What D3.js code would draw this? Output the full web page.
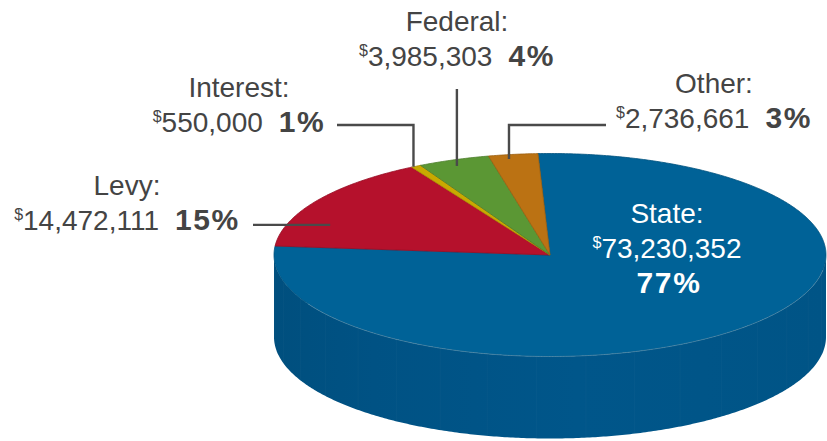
<!DOCTYPE html>
<html>
<head>
<meta charset="utf-8">
<script src="https://cdn.jsdelivr.net/npm/d3@7/dist/d3.min.js"></script>
<style>
  html, body { margin: 0; padding: 0; background: #ffffff; }
  svg { display: block; }
  text { font-family: "Liberation Sans", Arial, Helvetica, sans-serif; }
</style>
</head>
<body>
<svg id="chart" width="827" height="441"></svg>
<script>
// Revenue sources, in drawing order around the pie
const categories = ["State", "Levy", "Interest", "Federal", "Other"];
const amounts = [73230352, 14472111, 550000, 3985303, 2736661];
const topColors = ["#006297", "#b5112c", "#c9a900", "#5b9734", "#bb7213"];
const sideColors = ["#00568a", "#8f0c22", "#a08700", "#477828", "#945a0e"];

// Where each caption sits and how its leader runs to the slice
const labelLayout = {
  State:    { x: 667, y: 223, inside: true },
  Levy:     { x: 127, y: 195, leader: "h", startX: 253, along: 0.28, k: 0.85 },
  Interest: { x: 239, y: 97,  leader: "hv", startX: 337, startY: 125, along: 0.2, k: 1.0 },
  Federal:  { x: 457, y: 31,  leader: "v", startY: 89, along: 0.46, k: 0.94 },
  Other:    { x: 714, y: 93,  leader: "hv", startX: 606, startY: 125, along: 0.38, k: 0.957 }
};

const svg = d3.select("#chart");
const cx = 550, cy = 255, rx = 276, ry = 101.5, depth = 82;
const lineGap = 35;

const data = categories.map((c, i) => ({ name: c, value: amounts[i], top: topColors[i], side: sideColors[i] }));
const total = d3.sum(amounts);

// d3.pie angles run clockwise from 12 o'clock; shift to screen angles from +x
const pie = d3.pie().sort(null).value(d => d.value)
  .startAngle(-2.5 * Math.PI / 180)
  .endAngle(-2.5 * Math.PI / 180 + 2 * Math.PI);
const arcs = pie(data).map(a => ({ ...a, t0: a.startAngle - Math.PI / 2, t1: a.endAngle - Math.PI / 2 }));

const pt = (t, k = 1, dz = 0) => [cx + k * rx * Math.cos(t), cy + k * ry * Math.sin(t) + dz];
function ellipseArc(t0, t1, dz = 0) {
  const n = Math.max(2, Math.ceil(Math.abs(t1 - t0) / 0.01));
  return d3.range(n + 1).map(i => pt(t0 + (t1 - t0) * i / n, 1, dz));
}
const line = d3.line();

// Side gradient: a little darker toward the left edge
const defs = svg.append("defs");
arcs.forEach((a, i) => {
  const base = d3.color(a.data.side);
  const g = defs.append("linearGradient").attr("id", "side" + i)
    .attr("gradientUnits", "userSpaceOnUse")
    .attr("x1", cx - rx).attr("x2", cx + rx).attr("y1", 0).attr("y2", 0);
  g.append("stop").attr("offset", 0).attr("stop-color", base.darker(0.25));
  g.append("stop").attr("offset", 0.18).attr("stop-color", base.darker(0.12));
  g.append("stop").attr("offset", 0.55).attr("stop-color", base);
  g.append("stop").attr("offset", 1).attr("stop-color", base.darker(0.08));
});

// Front wall: the part of each slice facing the viewer (screen angles 0..π)
const sideG = svg.append("g");
arcs.forEach((a, i) => {
  for (let k = -1; k <= 1; k++) {
    const s0 = Math.max(a.t0 + 2 * Math.PI * k, 0);
    const s1 = Math.min(a.t1 + 2 * Math.PI * k, Math.PI);
    if (s1 > s0) {
      const topEdge = ellipseArc(s0, s1, 0);
      const bottomEdge = ellipseArc(s1, s0, depth);
      sideG.append("path")
        .attr("d", line(topEdge.concat(bottomEdge)) + "Z")
        .attr("fill", `url(#side${i})`);
      // faint facet seams
      d3.range(s0 + 0.18, s1, 0.18).forEach(t => {
        const p = pt(t), q = pt(t, 1, depth);
        sideG.append("line")
          .attr("x1", p[0]).attr("y1", p[1]).attr("x2", q[0]).attr("y2", q[1])
          .attr("stroke", "#ffffff").attr("stroke-opacity", 0.025).attr("stroke-width", 1);
      });
    }
  }
});

// Top face slices
const topG = svg.append("g");
arcs.forEach(a => {
  const pts = [[cx, cy]].concat(ellipseArc(a.t0, a.t1, 0));
  topG.append("path")
    .attr("d", line(pts) + "Z")
    .attr("fill", a.data.top)
    .attr("stroke", d3.color(a.data.top).darker(0.5))
    .attr("stroke-width", 0.8)
    .attr("stroke-linejoin", "round");
});
// Soft highlight along the front rim
topG.append("path")
  .attr("d", line(ellipseArc(0.15, Math.PI - 0.5, 0)))
  .attr("fill", "none")
  .attr("stroke", "#ffffff").attr("stroke-opacity", 0.22).attr("stroke-width", 1);

// Captions and leaders
const fmt = d3.format(",");
const labelG = svg.append("g");
arcs.forEach(a => {
  const L = labelLayout[a.data.name];
  const pct = Math.round(a.data.value / total * 100) + "%";
  const fill = L.inside ? "#ffffff" : "#444444";

  labelG.append("text").attr("x", L.x).attr("y", L.y)
    .attr("text-anchor", "middle").attr("fill", fill)
    .attr("font-size", 28).text(a.data.name + ":");

  const t2 = labelG.append("text").attr("x", L.x).attr("y", L.y + lineGap)
    .attr("text-anchor", "middle").attr("fill", fill).attr("font-size", 28);
  t2.append("tspan").attr("font-size", 16).attr("dy", -10).text("$");
  t2.append("tspan").attr("dy", 10).text(fmt(a.data.value));
  if (L.inside) {
    labelG.append("text").attr("x", L.x + 2).attr("y", L.y + 2 * lineGap)
      .attr("text-anchor", "middle").attr("fill", fill)
      .attr("font-size", 30).attr("font-weight", "bold")
      .attr("letter-spacing", 1.6).text(pct);
  } else {
    t2.append("tspan").attr("dx", 16).attr("font-weight", "bold").attr("font-size", 30)
      .attr("letter-spacing", 1.6).text(pct);

    const ta = a.t0 + (a.t1 - a.t0) * L.along;
    const anchor = pt(ta, L.k);
    let d;
    if (L.leader === "h") d = `M${L.startX},${anchor[1]}H${anchor[0]}`;
    else if (L.leader === "v") d = `M${anchor[0]},${L.startY}V${anchor[1]}`;
    else d = `M${L.startX},${L.startY}H${anchor[0]}V${anchor[1]}`;
    labelG.append("path").attr("d", d)
      .attr("fill", "none").attr("stroke", "#4a4a4a").attr("stroke-width", 2.4);
  }
});
</script>
</body>
</html>
